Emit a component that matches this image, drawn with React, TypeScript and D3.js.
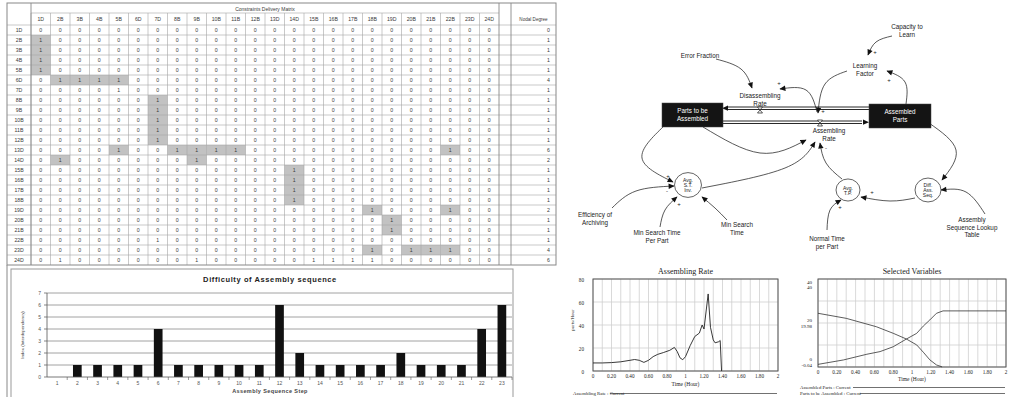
import * as d3 from "d3";

// ---- constraints delivery matrix ----
const nodeLabels = [
  "1D", "2B", "3B", "4B", "5B", "6D", "7D", "8B", "9B", "10B", "11B", "12B",
  "13D", "14D", "15B", "16B", "17B", "18B", "19D", "20B", "21B", "22B", "23D", "24D",
];

// [row, column] cells holding a 1 that are highlighted in the sheet
const shadedLinks: [string, string][] = [
  ["2B", "1D"], ["3B", "1D"], ["4B", "1D"], ["5B", "1D"],
  ["6D", "2B"], ["6D", "3B"], ["6D", "4B"], ["6D", "5B"],
  ["8B", "7D"], ["9B", "7D"], ["10B", "7D"], ["11B", "7D"], ["12B", "7D"],
  ["13D", "5B"], ["13D", "8B"], ["13D", "9B"], ["13D", "10B"], ["13D", "11B"], ["13D", "22B"],
  ["14D", "2B"], ["14D", "9B"],
  ["15B", "14D"], ["16B", "14D"], ["17B", "14D"], ["18B", "14D"],
  ["19D", "18B"], ["19D", "22B"],
  ["20B", "19D"], ["21B", "19D"],
  ["23D", "18B"], ["23D", "20B"], ["23D", "21B"], ["23D", "22B"],
];
// cells holding a 1 without highlight
const plainLinks: [string, string][] = [
  ["7D", "5B"], ["22B", "7D"],
  ["24D", "2B"], ["24D", "9B"], ["24D", "15B"], ["24D", "16B"], ["24D", "17B"], ["24D", "18B"],
];

// ---- difficulty bar chart ----
const steps = [1, 2, 3, 4, 5, 6, 7, 8, 9, 10, 11, 12, 13, 14, 15, 16, 17, 18, 19, 20, 21, 22, 23];
const difficulty = [0, 1, 1, 1, 1, 4, 1, 1, 1, 1, 1, 6, 2, 1, 1, 1, 1, 2, 1, 1, 1, 4, 6];
const difficultyTicks = [0, 1, 2, 3, 4, 5, 6, 7];

// ---- simulation output ----
const rateTime = [0, 0.1, 0.2, 0.3, 0.4, 0.45, 0.5, 0.55, 0.6, 0.65, 0.7, 0.76, 0.83, 0.88, 0.91, 0.94, 0.97, 1.0, 1.05, 1.1, 1.15, 1.18, 1.2, 1.245, 1.27, 1.3, 1.32, 1.36, 1.375, 1.39];
const rateValue = [7, 7, 7.3, 8, 9.3, 10, 9.3, 7.5, 9.3, 12.5, 14.5, 16, 18, 20.5, 17, 11.5, 9.8, 12.5, 22, 30, 33, 40, 36.5, 67, 38, 27, 24.5, 25.5, 26.5, 0];

const partsTime = [0, 0.3, 0.62, 0.8, 0.94, 1.05, 1.12, 1.19, 1.26, 1.32];
const partsValue = [24.4, 22.1, 18.3, 15.3, 12.7, 10, 6.7, 3.2, 0.9, 0];
const assembledTime = [0, 0.27, 0.52, 0.66, 0.8, 0.94, 1.05, 1.12, 1.19, 1.26, 1.33, 2];
const assembledValue = [1.2, 3.2, 5.8, 7, 9.2, 12.7, 15.3, 18.6, 21.4, 24.4, 25.5, 25.5];

const timeTicks = [0, 0.2, 0.4, 0.6, 0.8, 1, 1.2, 1.4, 1.6, 1.8, 2];
const timeTickLabels = ["0", "0.20", "0.40", "0.60", "0.80", "1", "1.20", "1.40", "1.60", "1.80", "2"];
const rateTicks = [0, 20, 40, 60, 80];
const selectedTicks = [0, 20, 40];
const assembledTickLabels = ["0", "20", "40"];
const partsTickLabels = ["-0.04", "19.98", "40"];

const sans = "Liberation Sans, Arial, sans-serif";
const serif = "Liberation Serif, Times New Roman, serif";

function MatrixTable() {
  const left = 7;
  const right = 556;
  const top = 3;
  const head = 13;
  const gapEnd = 511;
  const col = d3.scaleBand<string>().domain(nodeLabels).range([31, 499]);
  const row = d3.scaleBand<string>().domain(nodeLabels).range([25, 265]);
  const bottom = 265;
  const shaded = new Set(shadedLinks.map(([r, c]) => `${r}|${c}`));
  const ones = new Set([...shadedLinks, ...plainLinks].map(([r, c]) => `${r}|${c}`));
  const degree = (r: string) => nodeLabels.filter((c) => ones.has(`${r}|${c}`)).length;
  const grid = "#a4a4a4";

  return (
    <g fontFamily={sans} fontSize={5.2} fill="#3a3a3a">
      {nodeLabels.map((r) =>
        nodeLabels.map((c) =>
          shaded.has(`${r}|${c}`) ? (
            <rect key={`s-${r}-${c}`} x={col(c)} y={row(r)} width={col.bandwidth()} height={row.bandwidth()} fill="#c2c2c2" />
          ) : null
        )
      )}
      {nodeLabels.map((r) => (
        <line key={`h-${r}`} x1={left} x2={right} y1={row(r)} y2={row(r)} stroke={grid} strokeWidth={0.6} />
      ))}
      <line x1={31} x2={499} y1={head} y2={head} stroke={grid} strokeWidth={0.6} />
      {nodeLabels.map((c) => (
        <line key={`v-${c}`} x1={col(c)} x2={col(c)} y1={head} y2={bottom} stroke={grid} strokeWidth={0.6} />
      ))}
      <line x1={31} x2={31} y1={top} y2={bottom} stroke="#888" strokeWidth={0.9} />
      <line x1={499} x2={499} y1={top} y2={bottom} stroke="#888" strokeWidth={0.9} />
      <line x1={gapEnd} x2={gapEnd} y1={top} y2={bottom} stroke="#888" strokeWidth={0.9} />
      <rect x={left} y={top} width={right - left} height={bottom - top} fill="none" stroke="#888" strokeWidth={1} />
      <line x1={left} x2={left} y1={bottom} y2={397} stroke="#888" strokeWidth={1} />

      <text x={265} y={10.5} textAnchor="middle" fontSize={5}>Constraints Delivery Matrix</text>
      <text x={(gapEnd + right) / 2} y={21} textAnchor="middle" fontSize={4.6}>Nodal Degree</text>
      {nodeLabels.map((c) => (
        <text key={`ch-${c}`} x={(col(c) ?? 0) + col.bandwidth() / 2} y={21} textAnchor="middle">{c}</text>
      ))}
      {nodeLabels.map((r) => {
        const cy = (row(r) ?? 0) + row.bandwidth() / 2 + 1.8;
        return (
          <g key={`r-${r}`}>
            <text x={19} y={cy} textAnchor="middle">{r}</text>
            {nodeLabels.map((c) => (
              <text key={c} x={(col(c) ?? 0) + col.bandwidth() / 2} y={cy} textAnchor="middle">
                {ones.has(`${r}|${c}`) ? 1 : 0}
              </text>
            ))}
            <text x={550} y={cy} textAnchor="end">{degree(r)}</text>
          </g>
        );
      })}
    </g>
  );
}

function DifficultyChart() {
  const x = d3.scaleBand<number>().domain(steps).range([47, 512]);
  const y = d3.scaleLinear().domain([0, 7]).range([377, 293]);
  const barW = x.bandwidth() * 0.43;
  return (
    <g fontFamily={sans}>
      <rect x={11} y={269} width={502} height={140} fill="#fff" stroke="#999" strokeWidth={1} />
      <text x={270} y={282} textAnchor="middle" fontSize={7.5} fontWeight="bold" letterSpacing={0.6} fill="#222">
        Difficulty of Assembly sequence
      </text>
      {difficultyTicks.map((t) => (
        <g key={t}>
          {t > 0 ? <line x1={47} x2={512} y1={y(t)} y2={y(t)} stroke="#8c8c8c" strokeWidth={0.8} /> : null}
          <line x1={44} x2={47} y1={y(t)} y2={y(t)} stroke="#555" strokeWidth={0.7} />
          <text x={41} y={y(t) + 1.8} textAnchor="end" fontSize={5} fill="#555">{t}</text>
        </g>
      ))}
      {steps.map((s, i) => (
        <g key={s}>
          <rect
            x={(x(s) ?? 0) + (x.bandwidth() - barW) / 2}
            y={y(difficulty[i])}
            width={barW}
            height={y(0) - y(difficulty[i])}
            fill="#111"
          />
          <line x1={(x(s) ?? 0) + x.bandwidth()} x2={(x(s) ?? 0) + x.bandwidth()} y1={377} y2={380} stroke="#555" strokeWidth={0.6} />
          <text x={(x(s) ?? 0) + x.bandwidth() / 2} y={385} textAnchor="middle" fontSize={5} fill="#555">{s}</text>
        </g>
      ))}
      <line x1={47} x2={47} y1={y(7)} y2={y(0)} stroke="#555" strokeWidth={0.8} />
      <line x1={47} x2={512} y1={y(0)} y2={y(0)} stroke="#555" strokeWidth={0.8} />
      <text x={270} y={393} textAnchor="middle" fontSize={5.5} fontWeight="bold" letterSpacing={0.4} fill="#444">
        Assembly Sequence Step
      </text>
      <text transform="translate(24,335) rotate(-90)" textAnchor="middle" fontSize={4.4} fill="#444">
        Index (Interdependency)
      </text>
    </g>
  );
}

type Pt = [number, number];
const loopLabels: { lines: string[]; x: number; y: number }[] = [
  { lines: ["Error Fraction"], x: 700, y: 56 },
  { lines: ["Disassembling", "Rate"], x: 760, y: 96 },
  { lines: ["Capacity to", "Learn"], x: 907, y: 27 },
  { lines: ["Learning", "Factor"], x: 865, y: 66 },
  { lines: ["Assembling", "Rate"], x: 829, y: 131 },
  { lines: ["Efficiency of", "Archiving"], x: 595, y: 215 },
  { lines: ["Min Search Time", "Per Part"], x: 657, y: 233 },
  { lines: ["Min Search", "Time"], x: 737, y: 225 },
  { lines: ["Normal Time", "per Part"], x: 827, y: 239 },
  { lines: ["Assembly", "Sequence Lookup", "Table"], x: 972, y: 220 },
];
const loopStocks: { lines: string[]; x0: number; y0: number; x1: number; y1: number }[] = [
  { lines: ["Parts to be", "Assembled"], x0: 662, y0: 103, x1: 723, y1: 127 },
  { lines: ["Assembled", "Parts"], x0: 869, y0: 104, x1: 931, y1: 128 },
];
const loopAux: { lines: string[]; x: number; y: number; r: number }[] = [
  { lines: ["Avg.", "S.T.", "Inv."], x: 688, y: 185, r: 13.5 },
  { lines: ["Avg.", "T.P."], x: 848, y: 190, r: 12 },
  { lines: ["Diff.", "Ass.", "Seq."], x: 928, y: 190, r: 13 },
];
const loopLinks: { pts: Pt[]; sign?: string; sx?: number; sy?: number }[] = [
  { pts: [[716, 59], [741, 69], [752, 88]] },
  { pts: [[817, 112], [806, 90], [780, 89]], sign: "+", sx: 779, sy: 85 },
  { pts: [[847, 71], [825, 84], [818, 113]], sign: "+", sx: 823, sy: 113 },
  { pts: [[892, 36], [876, 42], [868, 55]], sign: "+", sx: 875, sy: 54 },
  { pts: [[906, 104], [905, 82], [887, 71]], sign: "+", sx: 889, sy: 82 },
  { pts: [[664, 126], [642, 158], [673, 182]], sign: "+", sx: 668, sy: 178 },
  { pts: [[612, 208], [636, 191], [674, 186]], sign: "-", sx: 667, sy: 193 },
  { pts: [[660, 227], [665, 210], [677, 197]], sign: "+", sx: 679, sy: 206 },
  { pts: [[727, 220], [715, 208], [702, 197]] },
  { pts: [[703, 127], [760, 153], [806, 140]] },
  { pts: [[702, 188], [785, 168], [815, 142]] },
  { pts: [[842, 179], [826, 163], [820, 143]], sign: "-", sx: 826, sy: 150 },
  { pts: [[915, 198], [890, 201], [861, 197]], sign: "+", sx: 872, sy: 194 },
  { pts: [[827, 230], [830, 210], [841, 200]], sign: "+", sx: 840, sy: 209 },
  { pts: [[985, 214], [966, 192], [941, 190]] },
  { pts: [[929, 123], [956, 150], [942, 180]] },
];

function Valve({ x, y }: { x: number; y: number }) {
  return (
    <path
      d={`M${x - 2.5},${y - 3} h5 L${x - 2.5},${y + 3} h5 Z`}
      fill="#fff"
      stroke="#111"
      strokeWidth={0.7}
    />
  );
}

function LoopDiagram() {
  const curve = d3.line<Pt>().curve(d3.curveNatural);
  return (
    <g fontFamily={sans} fontSize={6.3} fill="#1a1a1a">
      <defs>
        <marker id="ah" viewBox="0 0 10 10" refX={9} refY={5} markerWidth={7} markerHeight={6} markerUnits="userSpaceOnUse" orient="auto">
          <path d="M0,0.5 L10,5 L0,9.5 z" fill="#111" />
        </marker>
      </defs>
      {/* flow pipes */}
      <line x1={727} x2={869} y1={107} y2={107} stroke="#111" strokeWidth={0.9} />
      <line x1={727} x2={869} y1={109.5} y2={109.5} stroke="#111" strokeWidth={0.9} />
      <path d="M722,108.2 l6,-2.6 v5.2 z" fill="#111" />
      <line x1={723} x2={862} y1={121} y2={121} stroke="#111" strokeWidth={0.9} />
      <line x1={723} x2={862} y1={123.5} y2={123.5} stroke="#111" strokeWidth={0.9} />
      <path d="M869,122.2 l-6,-2.6 v5.2 z" fill="#111" />
      <Valve x={760} y={110} />
      <Valve x={820} y={123} />

      {loopLinks.map((l, i) => (
        <g key={i}>
          <path d={curve(l.pts) ?? ""} fill="none" stroke="#222" strokeWidth={0.75} markerEnd="url(#ah)" />
          {l.sign ? (
            <text x={l.sx} y={l.sy} fontSize={6} textAnchor="middle">{l.sign}</text>
          ) : null}
        </g>
      ))}

      {loopStocks.map((s) => (
        <g key={s.lines.join()}>
          <rect x={s.x0} y={s.y0} width={s.x1 - s.x0} height={s.y1 - s.y0} fill="#141414" stroke="#444" strokeWidth={0.5} />
          {s.lines.map((t, i) => (
            <text key={t} x={(s.x0 + s.x1) / 2} y={s.y0 + 10 + i * 7.5} textAnchor="middle" fill="#fff" fontSize={6.3}>{t}</text>
          ))}
        </g>
      ))}
      {loopAux.map((a) => (
        <g key={a.lines.join()}>
          <ellipse cx={a.x} cy={a.y} rx={a.r} ry={a.r * 0.92} fill="#fff" stroke="#222" strokeWidth={0.7} />
          {a.lines.map((t, i) => (
            <text key={t} x={a.x} y={a.y + 2 + (i - (a.lines.length - 1) / 2) * 5} textAnchor="middle" fontSize={5}>{t}</text>
          ))}
        </g>
      ))}
      {loopLabels.map((l) =>
        l.lines.map((t, i) => (
          <text key={`${l.x}-${t}`} x={l.x} y={l.y + 2 + i * 7.5} textAnchor="middle">{t}</text>
        ))
      )}
    </g>
  );
}

function TimeGrid({ x, y, top, bottom, left, right }: {
  x: d3.ScaleLinear<number, number>; y: d3.ScaleLinear<number, number>;
  top: number; bottom: number; left: number; right: number;
}) {
  const minor = x.ticks(20);
  const ys = y.ticks(4);
  return (
    <g>
      {minor.map((t) => (
        <line key={`v${t}`} x1={x(t)} x2={x(t)} y1={top} y2={bottom} stroke="#cfcfcf" strokeWidth={0.8} />
      ))}
      {ys.map((t) => (
        <line key={`h${t}`} x1={left} x2={right} y1={y(t)} y2={y(t)} stroke="#cfcfcf" strokeWidth={0.8} />
      ))}
      <rect x={left} y={top} width={right - left} height={bottom - top} fill="none" stroke="#555" strokeWidth={1} />
      {timeTicks.map((t, i) => (
        <text key={`t${t}`} x={x(t)} y={bottom + 6.5} textAnchor="middle" fontSize={5.2}>{timeTickLabels[i]}</text>
      ))}
    </g>
  );
}

function AssemblingRateChart() {
  const left = 593, right = 778, top = 279, bottom = 371;
  const x = d3.scaleLinear().domain([0, 2]).range([left, right]);
  const y = d3.scaleLinear().domain([0, 80]).range([bottom, top]);
  const path = d3.line<number>().x((_, i) => x(rateTime[i])).y((d) => y(d));
  return (
    <g fontFamily={serif} fill="#222">
      <text x={(left + right) / 2} y={274} textAnchor="middle" fontSize={8}>Assembling Rate</text>
      <TimeGrid x={x} y={d3.scaleLinear().domain([0, 4]).range([bottom, top])} top={top} bottom={bottom} left={left} right={right} />
      {rateTicks.map((t) => (
        <text key={t} x={584} y={y(t) + 2.5} textAnchor="end" fontSize={5.2}>{t}</text>
      ))}
      <text transform="translate(574,320) rotate(-90)" textAnchor="middle" fontSize={5}>parts/Hour</text>
      <path d={path(rateValue) ?? ""} fill="none" stroke="#222" strokeWidth={0.9} />
      <text x={(left + right) / 2} y={386} textAnchor="middle" fontSize={5.5}>Time (Hour)</text>
      <text x={573} y={395} fontSize={4.8}>Assembling Rate : Current</text>
      <line x1={610} x2={777} y1={393.5} y2={393.5} stroke="#333" strokeWidth={0.7} />
    </g>
  );
}

function SelectedVariablesChart() {
  const left = 818, right = 1006, top = 279, bottom = 367;
  const x = d3.scaleLinear().domain([0, 2]).range([left, right]);
  const y = d3.scaleLinear().domain([0, 40]).range([bottom, top]);
  const y2 = d3.scaleLinear().domain([-0.04, 40]).range([bottom, top]);
  const assembledLine = d3.line<number>().x((_, i) => x(assembledTime[i])).y((d) => y(d));
  const partsLine = d3.line<number>().x((_, i) => x(partsTime[i])).y((d) => y2(d));
  return (
    <g fontFamily={serif} fill="#222">
      <text x={(left + right) / 2} y={274} textAnchor="middle" fontSize={8}>Selected Variables</text>
      <TimeGrid x={x} y={d3.scaleLinear().domain([0, 4]).range([bottom, top])} top={top} bottom={bottom} left={left} right={right} />
      {selectedTicks.map((t, i) => {
        const off = t === 40 ? 4.5 : t === 0 ? -6 : -1;
        return (
          <g key={t}>
            <text x={812} y={y(t) + off} textAnchor="end" fontSize={5}>{assembledTickLabels[i]}</text>
            <text x={812} y={y(t) + off + 5.5} textAnchor="end" fontSize={5}>{partsTickLabels[i]}</text>
          </g>
        );
      })}
      <path d={assembledLine(assembledValue) ?? ""} fill="none" stroke="#333" strokeWidth={0.8} />
      <path d={partsLine(partsValue) ?? ""} fill="none" stroke="#333" strokeWidth={0.8} />
      <text x={(left + right) / 2} y={381} textAnchor="middle" fontSize={5.5}>Time (Hour)</text>
      <text x={800} y={389} fontSize={4.8}>Assembled Parts : Current</text>
      <line x1={853} x2={1005} y1={387.5} y2={387.5} stroke="#333" strokeWidth={0.7} />
      <text x={800} y={395} fontSize={4.8}>Parts to be Assembled : Current</text>
      <line x1={860} x2={1005} y1={393.5} y2={393.5} stroke="#333" strokeWidth={0.7} />
    </g>
  );
}

export default function App() {
  return (
    <svg
      width={1027}
      height={397}
      viewBox="0 0 1027 397"
      style={{ position: "absolute", left: 0, top: 0, background: "#fff" }}
    >
      <MatrixTable />
      <DifficultyChart />
      <LoopDiagram />
      <AssemblingRateChart />
      <SelectedVariablesChart />
    </svg>
  );
}
